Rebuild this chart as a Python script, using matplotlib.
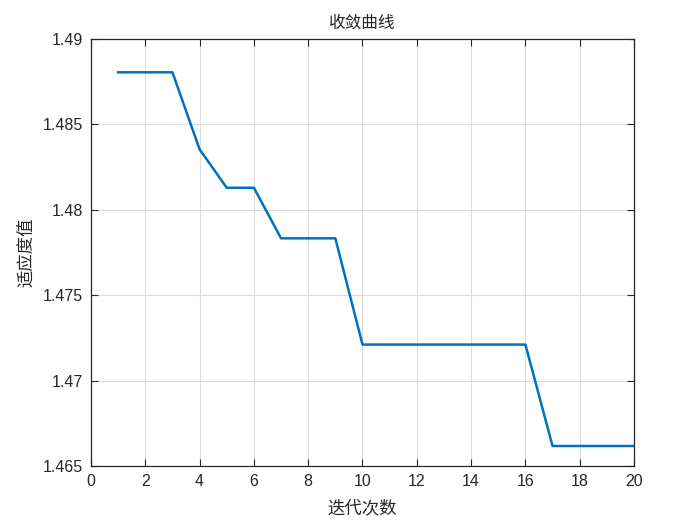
import matplotlib
matplotlib.use("Agg")
import matplotlib.pyplot as plt

iterations = list(range(1, 21))
fitness = [1.48805, 1.48805, 1.48805, 1.48354, 1.48129, 1.48129,
           1.47833, 1.47833, 1.47833, 1.47211, 1.47211, 1.47211,
           1.47211, 1.47211, 1.47211, 1.47211, 1.46617, 1.46617,
           1.46617, 1.46617]
xticks = [0, 2, 4, 6, 8, 10, 12, 14, 16, 18, 20]
yticks = [1.465, 1.47, 1.475, 1.48, 1.485, 1.49]
ytick_labels = ["1.465", "1.47", "1.475", "1.48", "1.485", "1.49"]

plt.rcParams['font.family'] = ['Liberation Sans', 'Noto Sans CJK SC', 'DejaVu Sans']
cjk = ['Noto Sans CJK SC', 'DejaVu Sans']

fig = plt.figure(figsize=(7, 5.25), dpi=100)
ax = fig.add_axes([0.13, 0.1124, 0.7757, 0.8133])
ax.plot(iterations, fitness, color='#0072BD', linewidth=1.8)
ax.set_xlim(0, 20)
ax.set_ylim(1.465, 1.49)
ax.set_xticks(xticks)
ax.set_yticks(yticks)
ax.set_yticklabels(ytick_labels)
ax.grid(True, color='#DCDCDC', linewidth=0.8)
ax.set_axisbelow(True)
ax.tick_params(direction='in', length=5, width=0.8, colors='#262626',
               labelsize=11.5, top=True, right=True, pad=6)
for s in ax.spines.values():
    s.set_color('#262626')
    s.set_linewidth(0.9)
ax.set_title('收敛曲线', family=cjk, fontsize=12, color='#262626', pad=8)
ax.set_xlabel('迭代次数', family=cjk, fontsize=12.5, color='#262626', labelpad=7)
ax.set_ylabel('适应度值', family=cjk, fontsize=12.5, color='#262626', labelpad=5)
fig.savefig('out.png', dpi=100)
